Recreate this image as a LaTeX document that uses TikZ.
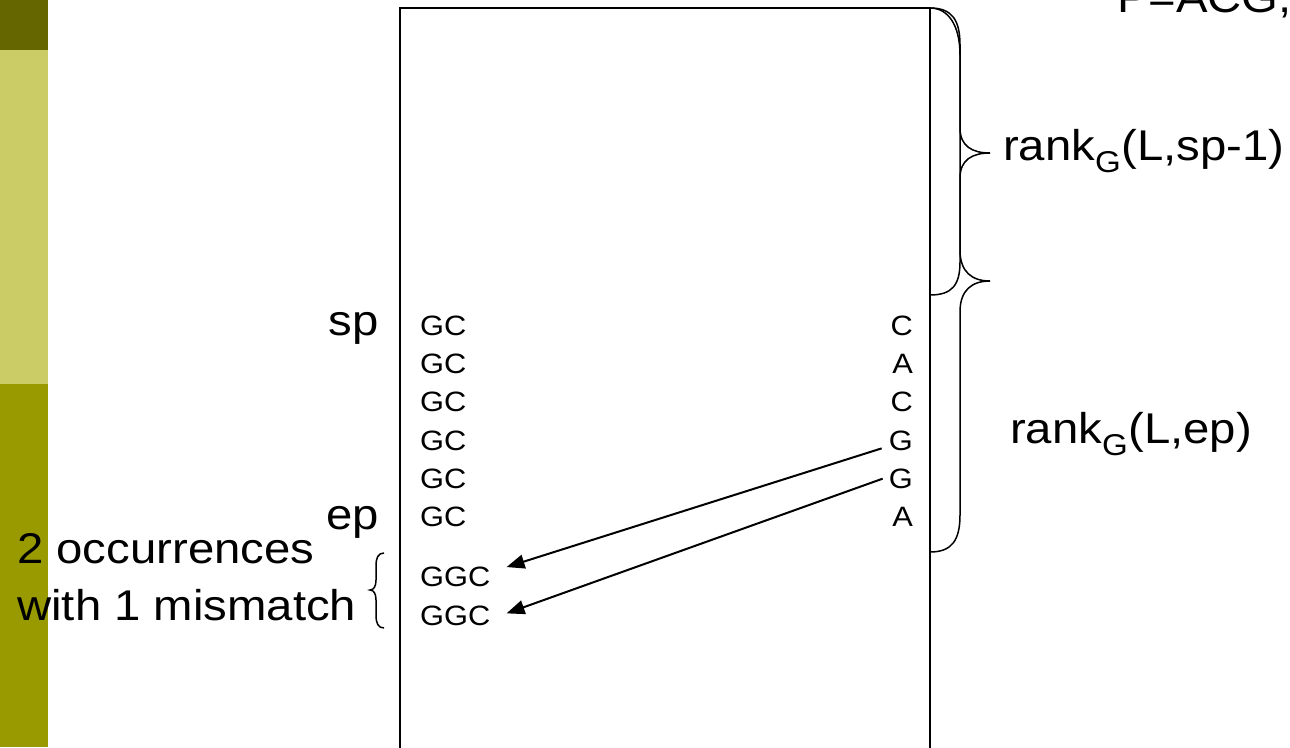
\documentclass[tikz,border=0pt]{standalone}
\usepackage{fontspec}
\setmainfont[FakeStretch=1.1]{Liberation Sans}
\usetikzlibrary{arrows.meta}
\definecolor{barDark}{HTML}{666600}
\definecolor{barLight}{HTML}{CCCC66}
\definecolor{barOlive}{HTML}{999900}
\tikzset{
  big/.style={font=\fontsize{43}{50}\selectfont, inner sep=0pt},
  small/.style={font=\fontsize{28}{33}\selectfont, inner sep=0pt},
  brace/.style={line width=1.5pt},
  arr/.style={line width=2pt, -{Triangle[length=18pt,width=14pt]}},
}
\begin{document}
\begin{tikzpicture}[x=1pt,y=-1pt]
\clip (0,0) rectangle (1290,747);
% side bar
\fill[barDark] (0,0) rectangle (48,50);
\fill[barLight] (0,50) rectangle (48,384);
\fill[barOlive] (0,384) rectangle (48,747);

% the BWT column
\node[draw, line width=2pt, minimum width=530pt, minimum height=800pt,
      anchor=north west, inner sep=0pt, outer sep=0pt] (L) at (400,8) {};

% sorted rows
\foreach \i/\y in {1/335, 2/373.3, 3/411.7, 4/450, 5/488.3, 6/526.7}
  \node[small, anchor=base west] (gc\i) at (420,\y) {GC};
\foreach \i/\y/\c in {1/335/C, 2/373.3/A, 3/411.7/C, 4/450/G, 5/488.3/G, 6/526.7/A}
  \node[small, anchor=base east] (r\i) at (913,\y) {\c};
\node[small, anchor=base west] (ggc1) at (420,586.7) {GGC};
\node[small, anchor=base west] (ggc2) at (420,625) {GGC};

% labels
\node[big, anchor=base east] (sp) at (379,335) {sp};
\node[big, anchor=base east] (ep) at (379,529) {ep};
\node[big, anchor=base west] (occ) at (17,563) {2 occurrences};
\node[big, anchor=base west] (mis) at (17,620) {with 1 mismatch};
\node[big, anchor=base west] (rsp) at (1003,160) {rank\textsubscript{G}(L,sp-1)};
\node[big, anchor=base west] (rep) at (1010,443) {rank\textsubscript{G}(L,ep)};
\node[big, anchor=base east] (pat) at (1292,12) {P=ACG,};

% braces
\draw[brace] (L.north east) .. controls (952,8) and (960,20) .. (960,45)
  -- (960,128) .. controls (960,146) and (972,153) .. (990,153)
  .. controls (972,153) and (960,160) .. (960,178)
  -- (960,262) .. controls (960,285) and (952,295) .. (930,295);
\draw[brace] (L.north east) .. controls (948,8) and (960,25) .. (960,55)
  -- (960,250) .. controls (960,272) and (972,281) .. (990,281)
  .. controls (972,281) and (960,290) .. (960,312)
  -- (960,515) .. controls (960,540) and (952,552) .. (930,552);
\draw[brace] (384,553) .. controls (378,553) and (376,558) .. (376,566)
  -- (376,580) .. controls (376,586) and (374,590) .. (370,590)
  .. controls (374,590) and (376,594) .. (376,600)
  -- (376,615) .. controls (376,623) and (378,628) .. (384,628);

% LF mapping arrows
\draw[arr] ([shift={(-7,8)}]r4.west) -- ([shift={(16,-10)}]ggc1.east);
\draw[arr] ([shift={(-6,0)}]r5.west) -- ([shift={(16,-2)}]ggc2.east);
\end{tikzpicture}
\end{document}
